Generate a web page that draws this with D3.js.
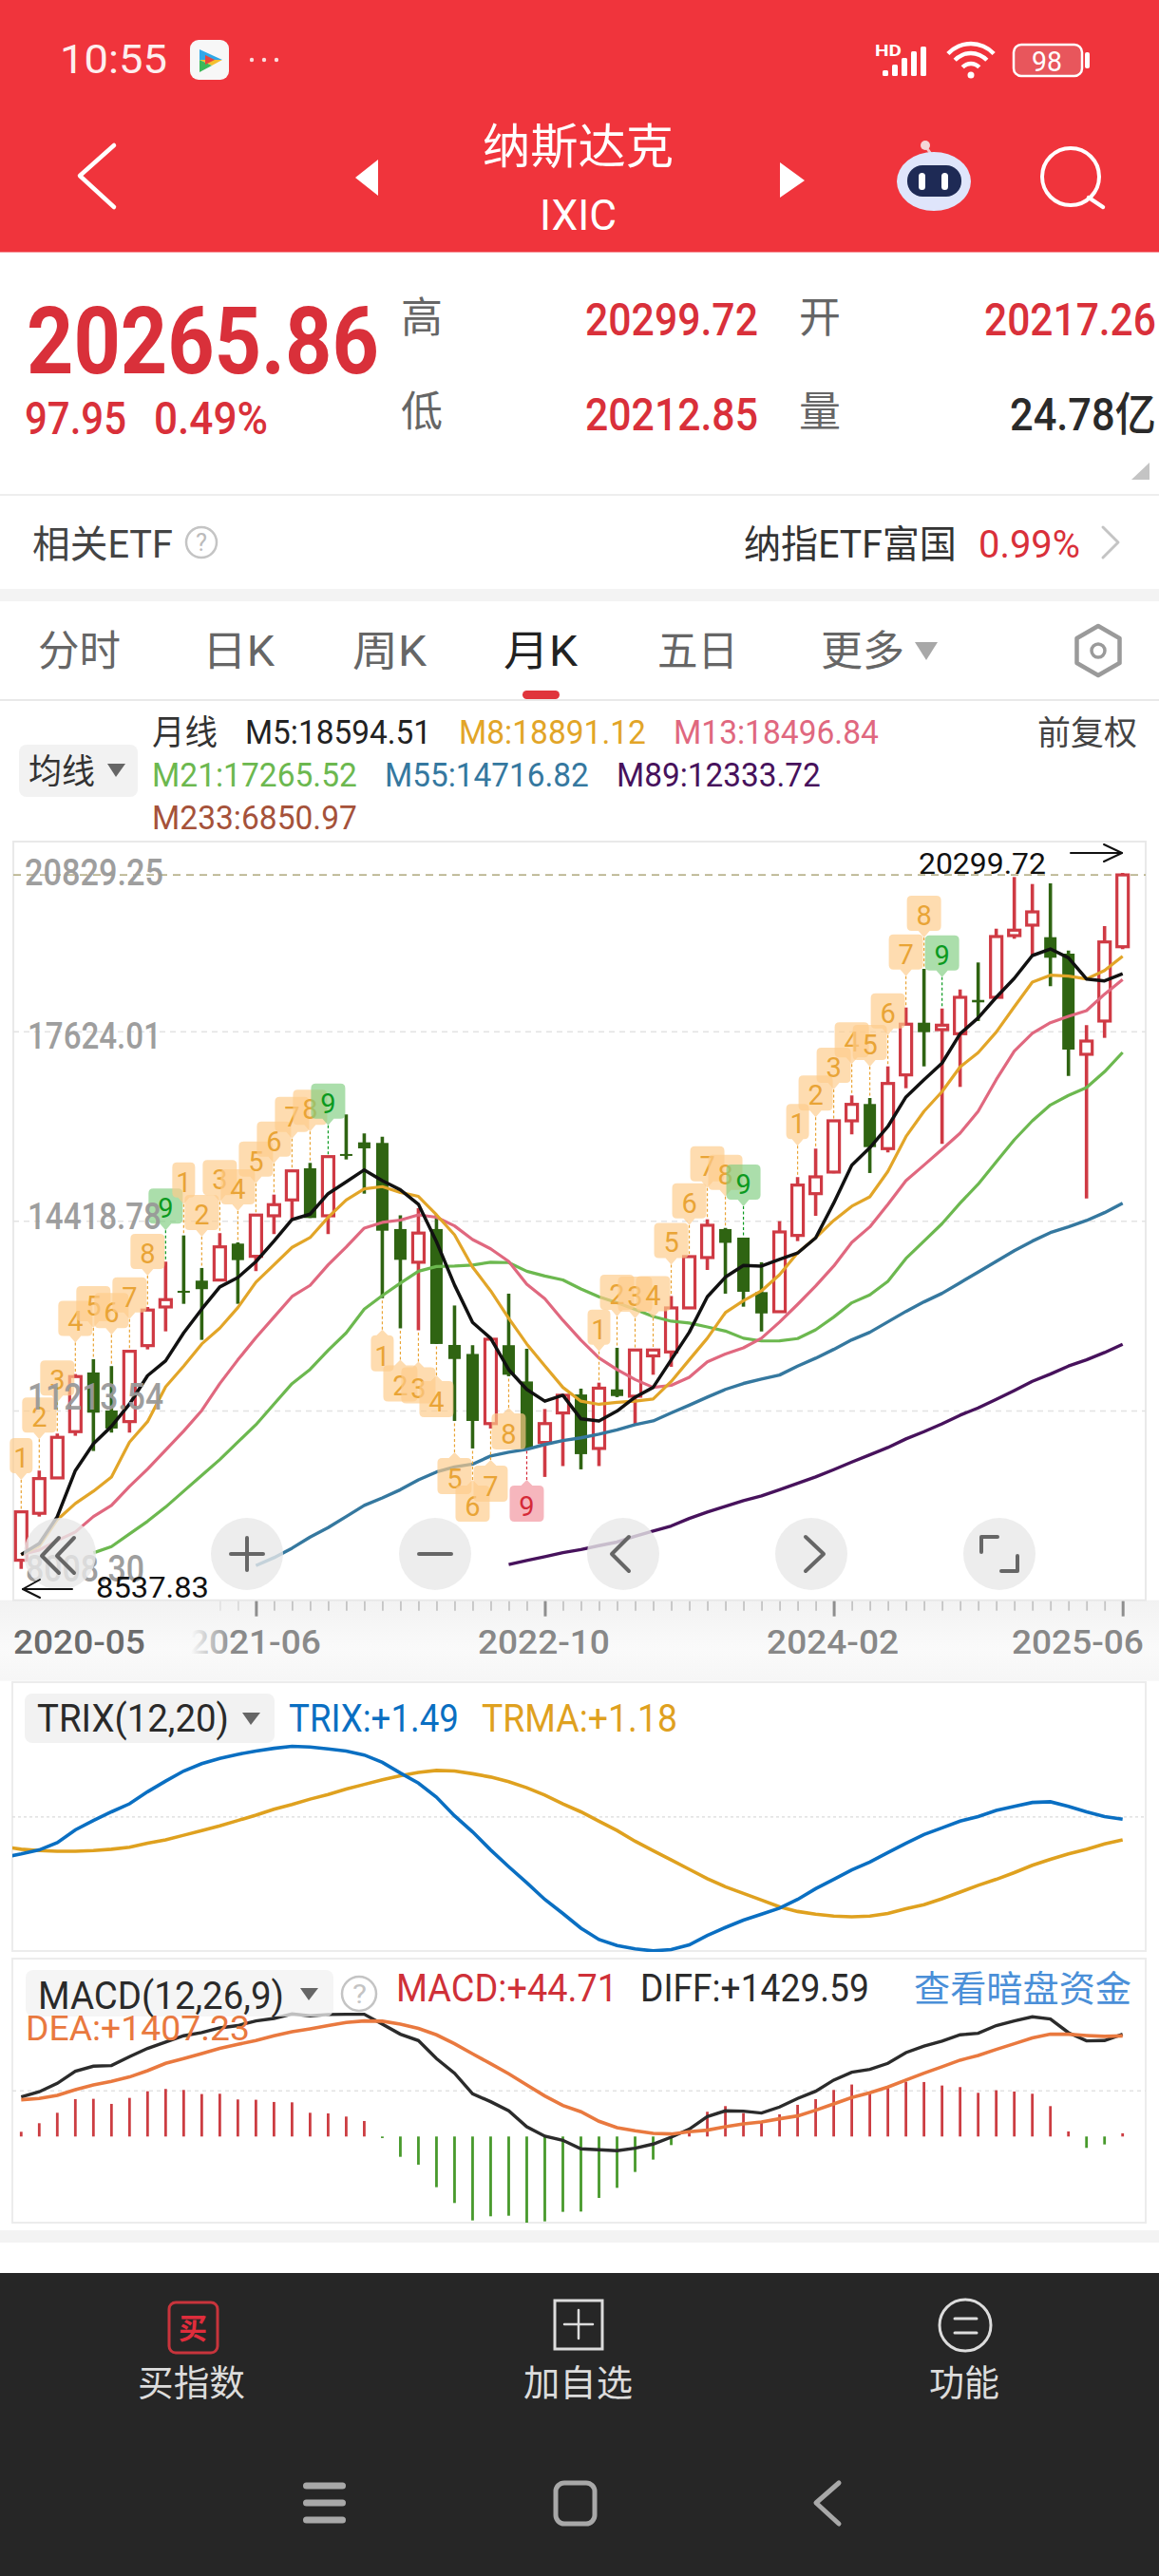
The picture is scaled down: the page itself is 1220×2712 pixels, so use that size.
<!DOCTYPE html>
<html>
<head>
<meta charset="utf-8">
<title>IXIC monthly</title>
<script src="https://cdn.jsdelivr.net/npm/d3@7"></script>
<style>
html, body { margin: 0; padding: 0; background: #fff; }
svg { display: block; }
text { font-family: Roboto, "Noto Sans CJK SC", sans-serif; }
</style>
</head>
<body>
<script>
// Monthly candles, 2020-05 .. 2025-06
var candleOpen = [8684,9477,10075,10857,11857,11215,11027,12311,12964,13237,13409,13419,14035,13820,14505,14773,15308,14505,15549,15746,15736,14281,13720,14281,12322,12170,10993,12318,11705,10674,11173,11485,10573,11571,11456,12138,12204,12948,13799,14281,14136,13215,12884,14173,14879,15244,16110,16394,15640,16886,17768,17651,17582,18153,18197,19240,19417,19213,18935,17234,17796,19052];
var candleClose = [9502,10064,10761,11788,11178,10910,12215,12912,13088,13205,13265,13980,13756,14517,14693,15264,14468,15505,15517,15645,14253,13761,14213,12339,12085,11038,12419,11819,10573,10993,11472,10477,11592,11459,12237,12237,12948,13815,14345,14048,13221,12855,14232,15024,15163,16110,16388,15666,16741,17743,17608,17726,18197,18112,19224,19332,19641,18866,17314,17458,19133,20265.86];
var candleHigh = [9513,10199,10825,11830,12082,11965,12231,12964,13730,14173,13623,14212,14056,14523,14863,15280,15399,15505,16218,15897,15842,14513,14634,14521,12989,12318,12419,13189,12258,11239,11488,11584,11685,12274,12242,12250,13149,13820,14446,14300,14136,13720,14414,15159,15640,16110,16539,16495,17030,18025,18678,18009,18330,18786,19357,20230,20112,20123,18988,17726,19401,20299.72];
var candleLow = [8537.83,9422,10064,10787,10530,10841,10841,12247,12552,13017,12408,13409,13017,13570,14196,14452,14468,14196,15457,14879,13114,12603,12570,12339,11038,10573,10910,11793,10573,10092,10275,10220,10275,11440,10974,11819,11953,12940,13590,13189,12969,12550,12884,14077,14505,15223,15881,15228,15576,16661,17030,15720,16683,17796,18197,19187,18903,18385,16870,14799,17512,19011];

// Moving averages
var m5 = [8780,8968,9422,10199,10653,10947,11323,11804,12054,12526,12928,13302,13462,13730,14077,14441,14533,14879,15078,15281,15099,14945,14700,14067,13335,12703,12436,11905,11571,11372,11472,11072,11038,11205,11440,11605,12071,12536,13136,13468,13667,13655,13767,13875,14131,14719,15361,15656,16014,16512,16805,17085,17582,17849,18197,18518,18903,19015,18866,18507,18475,18594.51];
var m8 = [8780,8920,9369,9642,9851,10092,10681,11027,11616,11965,12339,12607,12953,13382,13676,13971,14136,14478,14773,14960,14998,14899,14833,14521,14184,13639,13237,12772,12339,11969,11605,11372,11319,11351,11372,11408,11705,12071,12436,12868,13069,13237,13510,13879,14136,14425,14666,14826,15255,15842,16271,16603,17020,17261,17608,18036,18454,18571,18555,18507,18651,18891.12];
var m13 = [8780,8856,9016,9161,9422,9610,9931,10225,10546,10867,11215,11669,12071,12446,12793,13141,13329,13676,13976,14297,14393,14433,14521,14480,14334,14104,13947,13735,13350,13103,12740,12403,12104,11905,11738,11605,11639,11777,12038,12170,12274,12436,12708,13008,13318,13655,14056,14318,14698,15099,15361,15629,15902,16271,16805,17287,17587,17768,17876,17972,18250,18496.84];
var m21 = [8808,8915,9129,9342,9583,9851,10119,10385,10681,10974,11323,11669,11910,12231,12526,12928,13157,13366,13568,13648,13655,13671,13720,13714,13568,13488,13422,13269,13136,13035,12923,12804,12724,12692,12627,12557,12436,12390,12392,12430,12579,12793,13034,13168,13398,13783,14077,14372,14719,15040,15415,15789,16110,16378,16539,16672,16940,17265.52];
var m55 = [8594,8727,8888,9076,9236,9422,9610,9738,9876,10043,10175,10260,10308,10445,10509,10557,10640,10706,10753,10814,10886,10974,11038,11173,11305,11440,11571,11671,11745,11814,11965,12098,12247,12408,12536,12713,12889,13050,13194,13374,13554,13735,13916,14077,14221,14318,14425,14558,14716.82];
var m89 = [8610,8679,8743,8811,8864,8930,8991,9090,9177,9263,9389,9498,9596,9690,9771,9876,9984,10092,10215,10344,10466,10589,10734,10857,10990,11135,11258,11403,11552,11708,11830,11965,12071,12194,12333.72];

// TD count bubbles: each run counts 1-9 from its first month
var tdRunStart = [0, 9, 20, 32, 43];
var tdRunSide = ['up', 'up', 'down', 'up', 'up'];

// TRIX panel, one value before the first month because the lines run off the left edge
var trix = [0.92,0.97,1.03,1.14,1.33,1.47,1.60,1.72,1.90,2.06,2.21,2.32,2.40,2.46,2.51,2.55,2.58,2.57,2.54,2.51,2.45,2.34,2.18,2.03,1.82,1.54,1.30,1.03,0.78,0.54,0.29,0.08,-0.14,-0.31,-0.40,-0.45,-0.48,-0.46,-0.39,-0.25,-0.13,-0.02,0.07,0.16,0.29,0.45,0.59,0.73,0.85,0.99,1.13,1.26,1.36,1.46,1.53,1.62,1.68,1.74,1.75,1.68,1.60,1.53,1.49];
var trma = [1.08,1.04,1.02,1.01,1.01,1.02,1.04,1.07,1.13,1.18,1.25,1.32,1.39,1.47,1.55,1.64,1.71,1.79,1.86,1.94,2.01,2.08,2.14,2.19,2.22,2.21,2.17,2.12,2.05,1.96,1.85,1.72,1.60,1.46,1.32,1.16,1.02,0.88,0.74,0.60,0.48,0.38,0.28,0.18,0.11,0.07,0.04,0.03,0.04,0.08,0.15,0.21,0.30,0.40,0.50,0.59,0.69,0.80,0.89,0.97,1.04,1.12,1.18];

// MACD panel
var diff = [554,625,744,913,983,992,1116,1232,1320,1409,1453,1519,1551,1617,1652,1714,1688,1706,1710,1710,1573,1431,1342,1090,886,598,487,359,137,4,-53,-173,-186,-199,-164,-106,-9,102,279,359,354,328,412,532,633,789,899,939,1023,1174,1263,1333,1422,1444,1551,1617,1675,1644,1453,1338,1342,1429.59];
var dea = [514,532,576,656,722,771,833,921,1023,1090,1161,1232,1289,1342,1409,1466,1506,1551,1595,1617,1613,1573,1511,1422,1298,1156,1019,877,722,567,434,346,213,124,80,44,35,66,89,137,177,204,248,288,368,456,545,611,691,789,886,975,1068,1134,1218,1298,1378,1431,1431,1413,1400,1407.23];
var macdBars = [66,186,332,523,527,456,540,633,665,651,594,598,518,514,483,478,332,323,279,217,-22,-284,-394,-709,-930,-1174,-1116,-1108,-1205,-1187,-1054,-1050,-859,-718,-496,-323,-120,44,346,425,328,204,310,443,523,651,727,620,678,766,762,713,691,611,647,629,598,425,71,-159,-111,44.71];

// Axis ticks
var priceTicks = [20829.25, 17624.01, 14418.78, 11213.54, 8008.30];
var priceTickLabels = ['20829.25', '17624.01', '14418.78', '11213.54', '8008.30'];
var dateTicks = ['2020-05', '2021-06', '2022-10', '2024-02', '2025-06'];
var lastPrice = 20265.86;
var highLabel = 20299.72;
var lowLabel = 8537.83;
var trixMid = 1.53;
var macdMid = 645;

var red = '#cf3a44', green = '#2f6412', hdr = '#f0343c';

var svg = d3.select('body').append('svg').attr('width', 1220).attr('height', 2712);
var defs = svg.append('defs');

// text squeezed sideways into the width it has on the phone
function label(g, str, x0, x1, y, size, color, weight) {
	var t = g.append('text').text(str)
		.attr('font-size', size).attr('fill', color)
		.attr('font-weight', weight || 400);
	var sx = (x1 - x0) / t.node().getComputedTextLength();
	return t.attr('transform', 'translate(' + (x0 - 1) + ',' + y + ') scale(' + sx + ',1)');
}
function poly(g, pts, color, w, fill) {
	return g.append('path').attr('d', d3.line()(pts))
		.attr('fill', fill || 'none').attr('stroke', color)
		.attr('stroke-width', w || 0).attr('stroke-linecap', 'round').attr('stroke-linejoin', 'round');
}
function box(g, x, y, w, h, r, fill) {
	return g.append('rect').attr('x', x).attr('y', y).attr('width', w).attr('height', h).attr('rx', r).attr('fill', fill);
}

/* ---------- header ---------- */
var head = svg.append('g');
box(head, 0, 0, 1220, 265.5, 0, hdr);
label(head, '10:55', 64, 177, 77, 43, '#fdeeee');
box(head, 200, 42, 41, 42, 9, '#f7f7f7');
poly(head, [[210, 52], [234, 63], [210, 63]], 'none', 0, '#2fa7e8');
poly(head, [[210, 63], [234, 63], [223, 69]], 'none', 0, '#f4c02f');
poly(head, [[210, 63], [223, 69], [210, 76]], 'none', 0, '#3cb95a');
poly(head, [[216, 58], [226, 63], [216, 68]], 'none', 0, '#e8453c');
[265, 278, 291].forEach(function(x) { head.append('circle').attr('cx', x).attr('cy', 63).attr('r', 2.2).attr('fill', '#fbdcdc'); });

label(head, 'HD', 922, 950, 59, 17, '#fff', 700);
[[929, 74], [939, 68], [949, 61], [959, 54], [969, 49]].forEach(function(b) { box(head, b[0], b[1], 6, 80 - b[1], 1.5, '#fff'); });
[12, 23, 33].forEach(function(r) {
	head.append('path')
		.attr('d', d3.arc().innerRadius(r - 2.2).outerRadius(r + 2.2).startAngle(-0.82).endAngle(0.82)())
		.attr('transform', 'translate(1022,79)').attr('fill', '#fff');
});
head.append('circle').attr('cx', 1022).attr('cy', 79).attr('r', 3.5).attr('fill', '#fff');
head.append('rect').attr('x', 1067).attr('y', 47).attr('width', 72).attr('height', 33).attr('rx', 8).attr('fill', '#e8565c').attr('stroke', '#fff').attr('stroke-width', 2.5);
box(head, 1142, 55, 5, 17, 2, '#fff');
label(head, '98', 1087, 1119, 75, 29, '#fff');

poly(head, [[120, 153], [84, 185], [120, 218]], '#fff', 4.5);
poly(head, [[398, 168], [374, 187], [398, 206]], 'none', 0, '#fff');
poly(head, [[821, 171], [847, 190], [821, 208]], 'none', 0, '#fff');
label(head, '纳斯达克', 509, 710, 172, 50, '#fff');
label(head, 'IXIC', 569, 650, 242, 45, '#fff');

// robot
head.append('line').attr('x1', 975).attr('y1', 155).attr('x2', 982).attr('y2', 165).attr('stroke', '#f3c9cc').attr('stroke-width', 3);
head.append('circle').attr('cx', 974).attr('cy', 153).attr('r', 5).attr('fill', '#f5d6d8');
head.append('ellipse').attr('cx', 983).attr('cy', 191).attr('rx', 39).attr('ry', 31).attr('fill', '#dfe5fb');
box(head, 955, 174, 57, 33, 16, '#1e2a55');
box(head, 967, 182, 7, 18, 3.5, '#fff');
box(head, 991, 182, 7, 18, 3.5, '#fff');
// search
head.append('circle').attr('cx', 1127).attr('cy', 186).attr('r', 30).attr('fill', 'none').attr('stroke', '#fff').attr('stroke-width', 4);
poly(head, [[1146, 208], [1161, 218]], '#fff', 4.5);

/* ---------- quote block ---------- */
var quote = svg.append('g');
label(quote, '20265.86', 29, 400, 393, 98, '#d9303a', 700);
label(quote, '97.95', 27, 134, 457, 49, '#d9303a', 500);
label(quote, '0.49%', 163, 283, 457, 49, '#d9303a', 500);
label(quote, '高', 423, 467, 350, 44, '#666');
label(quote, '低', 423, 467, 449, 44, '#666');
label(quote, '开', 842, 886, 350, 44, '#666');
label(quote, '量', 842, 886, 449, 44, '#666');
label(quote, '20299.72', 617, 799, 353, 48, '#d9303a', 500);
label(quote, '20212.85', 617, 799, 453, 48, '#d9303a', 500);
label(quote, '20217.26', 1037, 1218, 353, 48, '#d9303a', 500);
label(quote, '24.78亿', 1064, 1218, 453, 48, '#2a2a2a', 500);
poly(quote, [[1210, 487], [1210, 505], [1191, 505]], 'none', 0, '#c4c4c4');
box(quote, 0, 520, 1220, 2, 0, '#eeeeee');

label(quote, '相关ETF', 35, 183, 587, 40, '#444');
quote.append('circle').attr('cx', 212).attr('cy', 571).attr('r', 16).attr('fill', 'none').attr('stroke', '#c4c4c4').attr('stroke-width', 2.5);
label(quote, '?', 207, 219, 580, 25, '#bbb');
label(quote, '纳指ETF富国', 784, 1008, 587, 40, '#333');
label(quote, '0.99%', 1031, 1138, 587, 40, '#d9303a');
poly(quote, [[1161, 555], [1177, 571], [1161, 587]], '#c4c4c4', 3);
box(quote, 0, 620, 1220, 13, 0, '#f3f3f3');

/* ---------- period tabs ---------- */
var tabs = svg.append('g');
label(tabs, '分时', 41, 128, 701, 44, '#666');
label(tabs, '日K', 214, 290, 701, 44, '#666');
label(tabs, '周K', 372, 450, 701, 44, '#666');
label(tabs, '月K', 531, 609, 701, 44, '#222');
label(tabs, '五日', 693, 778, 701, 44, '#666');
label(tabs, '更多', 865, 953, 701, 44, '#666');
poly(tabs, [[963, 676], [987, 676], [975, 695]], 'none', 0, '#a8a8a8');
box(tabs, 550, 727, 39, 9, 4.5, '#e0343c');
var hex = d3.range(6).map(function(k) {
	var a = Math.PI / 3 * k + Math.PI / 6;
	return [1156 + 26 * Math.cos(a), 685 + 26 * Math.sin(a)];
});
poly(tabs, hex.concat([hex[0]]), '#9a9a9a', 4.5);
tabs.append('circle').attr('cx', 1156).attr('cy', 685).attr('r', 7).attr('fill', 'none').attr('stroke', '#9a9a9a').attr('stroke-width', 3.5);
box(tabs, 0, 736, 1220, 2, 0, '#e9e9e9');

/* ---------- MA legend ---------- */
var lgd = svg.append('g');
var maGold = '#e2a528', maPink = '#e0687f', maGreen = '#6cb84f', maBlue = '#35789f', maPurple = '#47125c';
label(lgd, '月线', 161, 230, 784, 36, '#333');
label(lgd, 'M5:18594.51', 259, 455, 783, 35, '#222');
label(lgd, 'M8:18891.12', 484, 681, 783, 35, maGold);
label(lgd, 'M13:18496.84', 710, 926, 783, 35, maPink);
label(lgd, '前复权', 1093, 1198, 784, 35, '#444');
label(lgd, 'M21:17265.52', 161, 377, 828, 35, maGreen);
label(lgd, 'M55:14716.82', 406, 621, 828, 35, maBlue);
label(lgd, 'M89:12333.72', 650, 865, 828, 35, maPurple);
label(lgd, 'M233:6850.97', 161, 377, 873, 35, '#a5523a');
box(lgd, 20, 784, 125, 55, 8, '#f2f2f2');
label(lgd, '均线', 31, 101, 825, 36, '#333');
poly(lgd, [[113, 804], [132, 804], [122, 818]], 'none', 0, '#666');

/* ---------- main chart ---------- */
var chartLeft = 14, chartRight = 1206, chartTop = 886, chartBottom = 1684.7;
var x = d3.scaleLinear().domain([0, 61]).range([22.3, 1181.7]);
var y = d3.scaleLinear().domain([8008.30, 20829.25]).range([chartBottom, chartTop]);

function monthIndex(s) {
	var p = s.split('-');
	return (+p[0] - 2020) * 12 + (+p[1]) - 5;
}

var chart = svg.append('g');

// x axis band
var bandFade = defs.append('linearGradient').attr('id', 'band').attr('x1', 0).attr('x2', 0).attr('y1', 0).attr('y2', 1);
bandFade.append('stop').attr('offset', 0).attr('stop-color', '#f2f2f2');
bandFade.append('stop').attr('offset', 0.6).attr('stop-color', '#fafafa');
bandFade.append('stop').attr('offset', 1).attr('stop-color', '#f6f6f6');
chart.append('rect').attr('x', 0).attr('y', chartBottom).attr('width', 1220).attr('height', 85).attr('fill', 'url(#band)');

chart.append('rect').attr('x', chartLeft).attr('y', chartTop).attr('width', chartRight - chartLeft).attr('height', chartBottom - chartTop)
	.attr('fill', '#fff').attr('stroke', '#e9e9e9').attr('stroke-width', 2);

// grid from the price axis
var grid = chart.append('g').attr('transform', 'translate(' + chartLeft + ',0)')
	.call(d3.axisRight(y).tickValues(priceTicks.slice(1, 4)).tickSize(chartRight - chartLeft).tickFormat(''));
grid.select('.domain').remove();
grid.selectAll('line').attr('stroke', '#e3e3e3').attr('stroke-width', 1.5).attr('stroke-dasharray', '6,5');

// latest price line
chart.append('line').attr('x1', chartLeft).attr('x2', chartRight).attr('y1', y(lastPrice)).attr('y2', y(lastPrice))
	.attr('stroke', '#b9b48e').attr('stroke-width', 1.8).attr('stroke-dasharray', '8,6');

// month ticks, the first ones fade out under the date label
var minorAxis = chart.append('g').attr('transform', 'translate(0,' + (chartBottom + 1) + ')')
	.call(d3.axisBottom(x).tickValues(d3.range(11, 62)).tickSize(10).tickFormat(''));
minorAxis.select('.domain').remove();
minorAxis.selectAll('line').attr('stroke', '#c4c4c4').attr('stroke-width', 1.8)
	.attr('opacity', function(d) { return d < 14 ? 0.35 + (d - 11) * 0.2 : 1; });
var majorAxis = chart.append('g').attr('transform', 'translate(0,' + (chartBottom + 1) + ')')
	.call(d3.axisBottom(x).tickValues(dateTicks.slice(1).map(monthIndex)).tickSize(16).tickFormat(''));
majorAxis.select('.domain').remove();
majorAxis.selectAll('line').attr('stroke', '#8e8e8e').attr('stroke-width', 3);

// candles
var n = candleOpen.length;
var candles = chart.append('g').selectAll('g').data(d3.range(n)).enter().append('g');
candles.append('line')
	.attr('x1', function(i) { return x(i); }).attr('x2', function(i) { return x(i); })
	.attr('y1', function(i) { return y(candleHigh[i]); }).attr('y2', function(i) { return y(candleLow[i]); })
	.attr('stroke', function(i) { return candleClose[i] >= candleOpen[i] ? red : green; })
	.attr('stroke-width', 3.6);
candles.append('rect')
	.attr('x', function(i) { return x(i) - (candleClose[i] >= candleOpen[i] ? 6 : 6.5); })
	.attr('width', function(i) { return candleClose[i] >= candleOpen[i] ? 12 : 13; })
	.attr('y', function(i) { return y(Math.max(candleOpen[i], candleClose[i])); })
	.attr('height', function(i) { return Math.max(2, Math.abs(y(candleOpen[i]) - y(candleClose[i]))); })
	.attr('fill', function(i) { return candleClose[i] >= candleOpen[i] ? '#fff' : green; })
	.attr('stroke', function(i) { return candleClose[i] >= candleOpen[i] ? red : 'none'; })
	.attr('stroke-width', 3.2);

// moving averages, each starts at the month it first has a value
function maLine(values, start, color, w) {
	chart.append('path').datum(values)
		.attr('d', d3.line().x(function(d, k) { return x(k + start); }).y(function(d) { return y(d); }))
		.attr('fill', 'none').attr('stroke', color).attr('stroke-width', w).attr('stroke-linejoin', 'round');
}
maLine(m89, 27, maPurple, 3.4);
maLine(m55, 13, maBlue, 3.4);
maLine(m21, 4, maGreen, 3.2);
maLine(m13, 0, maPink, 3.2);
maLine(m8, 0, maGold, 3.2);
maLine(m5, 0, '#111', 3.5);

// TD count bubbles
var tdStyle = {
	orange: { fill: 'rgba(253,203,138,0.68)', text: '#e9a436' },
	green: { fill: 'rgba(128,205,128,0.66)', text: '#0b9a1f' },
	red: { fill: 'rgba(241,148,158,0.68)', text: '#d52a38' }
};
var td = chart.append('g');
tdRunStart.forEach(function(start, run) {
	var side = tdRunSide[run];
	d3.range(9).forEach(function(k) {
		var i = start + k, digit = k + 1;
		var st = digit < 9 ? tdStyle.orange : (side === 'up' ? tdStyle.green : tdStyle.red);
		var hw = digit === 1 ? 12 : 18, cx = x(i), anchor, cy, tip, path;
		if (side === 'up') {
			anchor = y(candleHigh[i]);
			cy = anchor - 56;
			tip = cy + 23;
			path = 'M' + (cx - hw + 5) + ',' + (cy - 21) + 'H' + (cx + hw - 5) + 'Q' + (cx + hw) + ',' + (cy - 21) + ' ' + (cx + hw) + ',' + (cy - 16) +
				'V' + (cy + 11) + 'Q' + (cx + hw) + ',' + (cy + 16) + ' ' + (cx + hw - 5) + ',' + (cy + 16) + 'H' + (cx + 6) + 'L' + cx + ',' + tip + 'L' + (cx - 6) + ',' + (cy + 16) +
				'H' + (cx - hw + 5) + 'Q' + (cx - hw) + ',' + (cy + 16) + ' ' + (cx - hw) + ',' + (cy + 11) + 'V' + (cy - 16) + 'Q' + (cx - hw) + ',' + (cy - 21) + ' ' + (cx - hw + 5) + ',' + (cy - 21) + 'Z';
		} else {
			anchor = y(candleLow[i]);
			cy = anchor + 61;
			tip = cy - 28;
			path = 'M' + (cx - hw + 5) + ',' + (cy + 16) + 'H' + (cx + hw - 5) + 'Q' + (cx + hw) + ',' + (cy + 16) + ' ' + (cx + hw) + ',' + (cy + 11) +
				'V' + (cy - 17) + 'Q' + (cx + hw) + ',' + (cy - 22) + ' ' + (cx + hw - 5) + ',' + (cy - 22) + 'H' + (cx + 6) + 'L' + cx + ',' + tip + 'L' + (cx - 6) + ',' + (cy - 22) +
				'H' + (cx - hw + 5) + 'Q' + (cx - hw) + ',' + (cy - 22) + ' ' + (cx - hw) + ',' + (cy - 17) + 'V' + (cy + 11) + 'Q' + (cx - hw) + ',' + (cy + 16) + ' ' + (cx - hw + 5) + ',' + (cy + 16) + 'Z';
		}
		td.append('line').attr('x1', cx).attr('x2', cx).attr('y1', tip).attr('y2', anchor)
			.attr('stroke', st.text).attr('stroke-width', 1.2).attr('stroke-dasharray', '3,2.5');
		td.append('path').attr('d', path).attr('fill', st.fill);
		td.append('text').text(digit).attr('x', cx).attr('y', cy + 10).attr('text-anchor', 'middle')
			.attr('font-size', 29).attr('fill', st.text);
	});
});

// price labels sit inside the chart, pushed in at both ends
var labelShift = [46, 18, 9, -1, -20];
var labelRight = [173, 171, 171, 173, 153];
priceTicks.forEach(function(p, k) {
	label(chart, priceTickLabels[k], k === 0 ? 27 : (k === 4 ? 28 : 30), labelRight[k], y(p) + labelShift[k], 38, '#999', 500).attr('opacity', 0.95);
});

// floating chart buttons, see-through so the lines and the low label show under them
var btnY = 1636;
function floatBtn(cx) {
	return chart.append('circle').attr('cx', cx).attr('cy', btnY).attr('r', 38).attr('fill', '#e8e8e8').attr('opacity', 0.8);
}
var glyph = '#666';
floatBtn(63);
poly(chart, [[62, 1619], [44, 1638], [62, 1656]], glyph, 4);
poly(chart, [[78, 1619], [60, 1638], [78, 1656]], glyph, 4);
floatBtn(260);
poly(chart, [[243, 1636], [277, 1636]], glyph, 4);
poly(chart, [[260, 1619], [260, 1653]], glyph, 4);
floatBtn(458);
poly(chart, [[441, 1636], [475, 1636]], glyph, 4);
floatBtn(656);
poly(chart, [[662, 1618], [644, 1636], [662, 1654]], glyph, 4);
floatBtn(854);
poly(chart, [[848, 1618], [867, 1636], [848, 1654]], glyph, 4);
floatBtn(1052);
poly(chart, [[1033, 1634], [1033, 1618], [1050, 1618]], glyph, 4);
poly(chart, [[1071, 1638], [1071, 1654], [1054, 1654]], glyph, 4);

// high / low markers
label(chart, highLabel.toFixed(2), 968, 1102, 920, 32, '#111');
poly(chart, [[1127, 898], [1181, 898]], '#111', 2);
poly(chart, [[1162, 889], [1181, 898], [1162, 907]], '#111', 2);
label(chart, lowLabel.toFixed(2), 102, 221, 1682, 32, '#111');
poly(chart, [[76, 1673], [24, 1673]], '#111', 2);
poly(chart, [[42, 1663], [24, 1673], [42, 1682]], '#111', 2);

// date labels, clamped to the chart ends; the second one fades into the button row
var fade = defs.append('linearGradient').attr('id', 'dateFade').attr('x1', 0).attr('x2', 0.33).attr('y1', 0).attr('y2', 0);
fade.append('stop').attr('offset', 0).attr('stop-color', '#fff');
fade.append('stop').attr('offset', 1).attr('stop-color', '#8a8a8a');
dateTicks.forEach(function(d, k) {
	var cx = Math.max(84.5, Math.min(1135.5, x(monthIndex(d))));
	label(chart, d, cx - 69.5, cx + 69.5, 1741, 36, k === 0 ? '#6b6b6b' : (k === 1 ? 'url(#dateFade)' : '#888'), 500);
});

/* ---------- TRIX ---------- */
var trixPanel = svg.append('g');
trixPanel.append('rect').attr('x', 13).attr('y', 1771).attr('width', 1193).attr('height', 283)
	.attr('fill', '#fff').attr('stroke', '#ececec').attr('stroke-width', 2);
var trixY = d3.scaleLinear().domain([-0.48, 2.58]).range([2053.9, 1838.5]);
defs.append('clipPath').attr('id', 'trixClip').append('rect').attr('x', 13).attr('y', 1771).attr('width', 1193).attr('height', 284);

var trixGrid = trixPanel.append('g').attr('transform', 'translate(13,0)')
	.call(d3.axisRight(trixY).tickValues([trixMid]).tickSize(1193).tickFormat(''));
trixGrid.select('.domain').remove();
trixGrid.selectAll('line').attr('stroke', '#dcdcdc').attr('stroke-width', 1.4).attr('stroke-dasharray', '3,3');

var trixLine = d3.line().x(function(d, k) { return x(k - 1); }).y(function(d) { return trixY(d); });
var trixLines = trixPanel.append('g').attr('clip-path', 'url(#trixClip)');
trixLines.append('path').datum(trma).attr('d', trixLine).attr('fill', 'none').attr('stroke', '#dfa11f').attr('stroke-width', 3.6);
trixLines.append('path').datum(trix).attr('d', trixLine).attr('fill', 'none').attr('stroke', '#0a6fc2').attr('stroke-width', 3.6);

box(trixPanel, 26, 1783, 263, 52, 8, '#f2f2f2');
label(trixPanel, 'TRIX(12,20)', 40, 242, 1823, 40, '#2a2a2a');
poly(trixPanel, [[255, 1803], [274, 1803], [264, 1816]], 'none', 0, '#666');
label(trixPanel, 'TRIX:+1.49', 305, 484, 1823, 40, '#0a6fc2');
label(trixPanel, 'TRMA:+1.18', 508, 714, 1823, 40, '#dfa11f');

/* ---------- MACD ---------- */
var macdPanel = svg.append('g');
macdPanel.append('rect').attr('x', 13).attr('y', 2062).attr('width', 1193).attr('height', 278)
	.attr('fill', '#fff').attr('stroke', '#ececec').attr('stroke-width', 2);
var macdY = d3.scaleLinear().domain([-1205, 0]).range([2340, 2249.3]);

var macdGrid = macdPanel.append('g').attr('transform', 'translate(13,0)')
	.call(d3.axisRight(macdY).tickValues([macdMid]).tickSize(1193).tickFormat(''));
macdGrid.select('.domain').remove();
macdGrid.selectAll('line').attr('stroke', '#e2e2e2').attr('stroke-width', 1.4).attr('stroke-dasharray', '4,4');

macdPanel.append('g').selectAll('rect').data(macdBars).enter().append('rect')
	.attr('x', function(d, k) { return x(k) - 1.4; })
	.attr('width', 2.8)
	.attr('y', function(d) { return Math.min(macdY(d), macdY(0)); })
	.attr('height', function(d) { return Math.abs(macdY(d) - macdY(0)); })
	.attr('fill', function(d) { return d >= 0 ? '#cc3d42' : '#489a2c'; });

var macdLine = d3.line().x(function(d, k) { return x(k); }).y(function(d) { return macdY(d); });
macdPanel.append('path').datum(diff).attr('d', macdLine).attr('fill', 'none').attr('stroke', '#2b2b2b').attr('stroke-width', 3.4);
macdPanel.append('path').datum(dea).attr('d', macdLine).attr('fill', 'none').attr('stroke', '#e9793f').attr('stroke-width', 3.6);

box(macdPanel, 27, 2074, 324, 49, 8, '#f2f2f2').attr('opacity', 0.75);
label(macdPanel, 'MACD(12,26,9)', 41, 300, 2115, 40, '#2a2a2a');
poly(macdPanel, [[316, 2093], [335, 2093], [325, 2106]], 'none', 0, '#666');
macdPanel.append('circle').attr('cx', 378).attr('cy', 2099).attr('r', 18).attr('fill', 'none').attr('stroke', '#c4c4c4').attr('stroke-width', 2.5);
label(macdPanel, '?', 372, 387, 2109, 28, '#c4c4c4');
label(macdPanel, 'MACD:+44.71', 418, 651, 2107, 40, '#cf3038');
label(macdPanel, 'DIFF:+1429.59', 675, 916, 2107, 40, '#2b2b2b');
label(macdPanel, '查看暗盘资金', 963, 1192, 2107, 38, '#4a8fd8');
label(macdPanel, 'DEA:+1407.23', 28, 264, 2148, 37, '#e9793f');

/* ---------- bottom bars ---------- */
var foot = svg.append('g');
box(foot, 0, 2348, 1220, 13, 0, '#f3f3f3');
box(foot, 0, 2393, 1220, 319, 0, '#262626');

foot.append('rect').attr('x', 178).attr('y', 2424).attr('width', 51).attr('height', 53).attr('rx', 7)
	.attr('fill', 'none').attr('stroke', '#c8343c').attr('stroke-width', 3);
label(foot, '买', 189, 219, 2462, 30, '#e02d3c', 700);
label(foot, '买指数', 146, 259, 2522, 38, '#dcdcdc');

foot.append('rect').attr('x', 584).attr('y', 2422).attr('width', 50).attr('height', 51)
	.attr('fill', 'none').attr('stroke', '#dcdcdc').attr('stroke-width', 3);
poly(foot, [[594, 2447], [624, 2447]], '#dcdcdc', 2.5);
poly(foot, [[609, 2432], [609, 2462]], '#dcdcdc', 2.5);
label(foot, '加自选', 552, 667, 2522, 38, '#dcdcdc');

foot.append('circle').attr('cx', 1016).attr('cy', 2448).attr('r', 27)
	.attr('fill', 'none').attr('stroke', '#dcdcdc').attr('stroke-width', 3);
poly(foot, [[1005, 2441], [1028, 2441]], '#dcdcdc', 3);
poly(foot, [[1005, 2456], [1028, 2456]], '#dcdcdc', 3);
label(foot, '功能', 979, 1053, 2522, 38, '#dcdcdc');

[2617, 2635, 2653].forEach(function(by) { box(foot, 319, by - 3.5, 45, 7, 3.5, '#a8a8a8'); });
foot.append('rect').attr('x', 585).attr('y', 2614).attr('width', 41).attr('height', 43).attr('rx', 9)
	.attr('fill', 'none').attr('stroke', '#a8a8a8').attr('stroke-width', 5);
poly(foot, [[883, 2614], [859, 2635], [883, 2657]], '#a8a8a8', 5);
</script>
</body>
</html>
